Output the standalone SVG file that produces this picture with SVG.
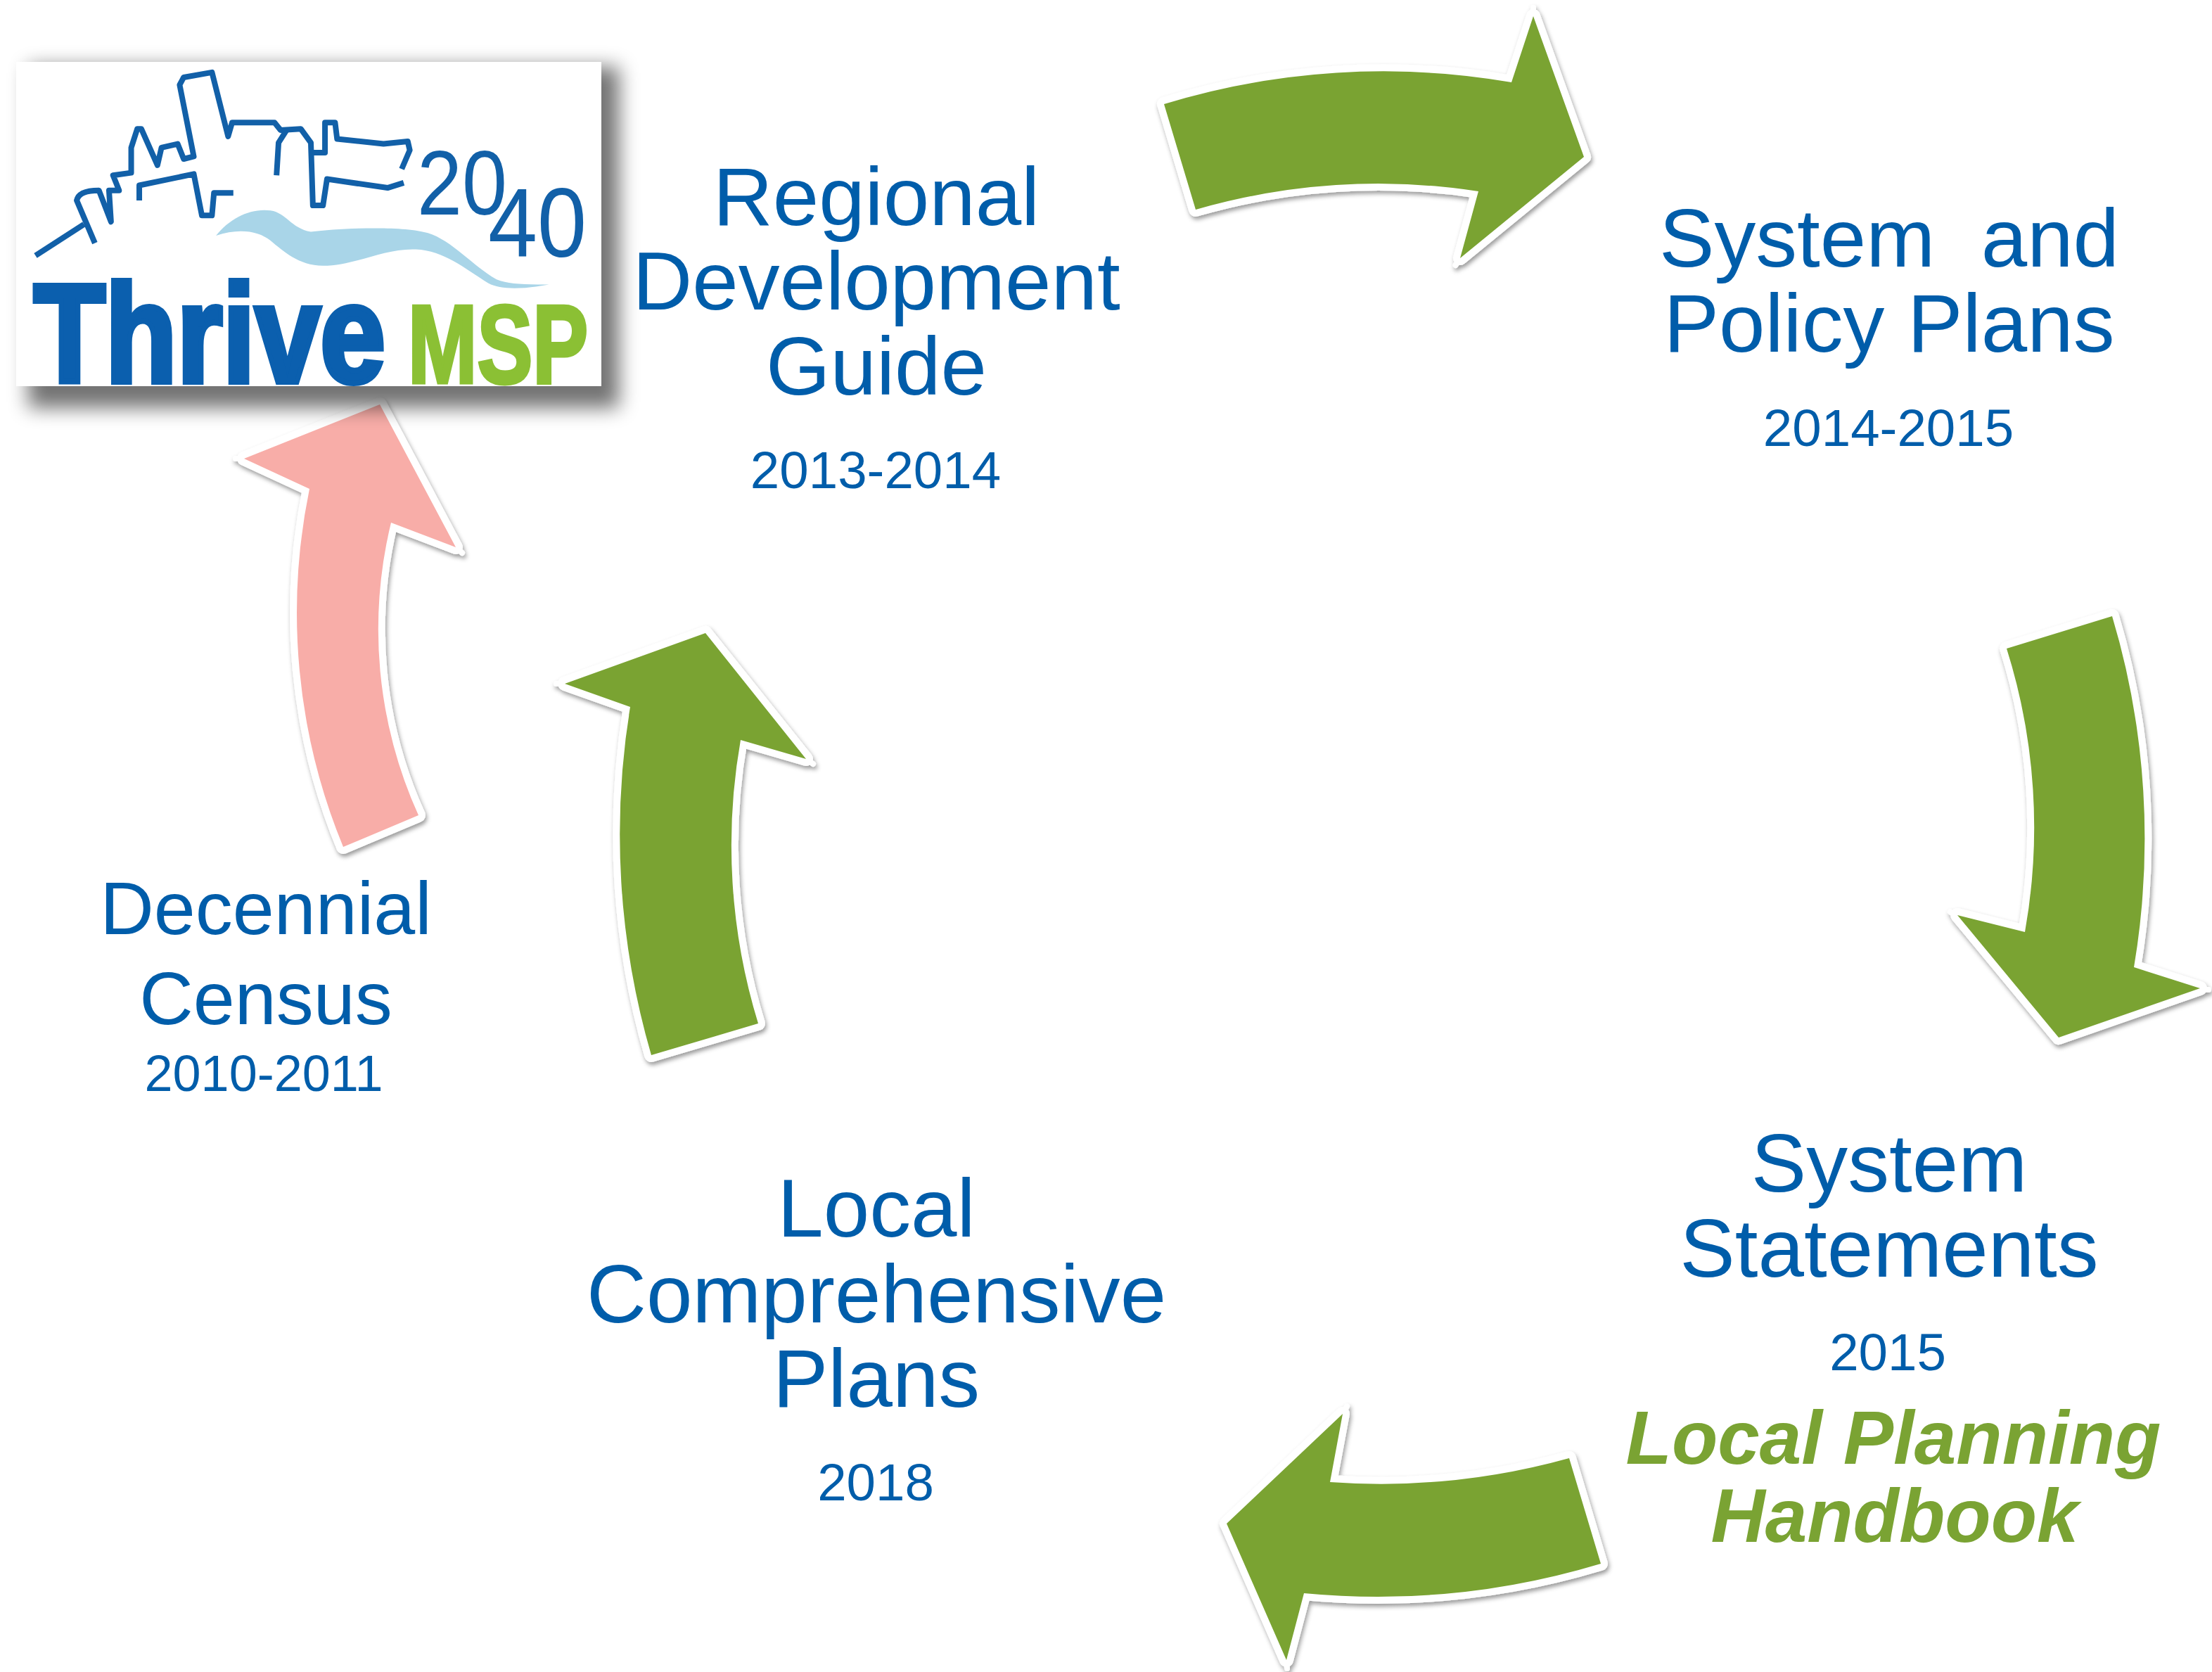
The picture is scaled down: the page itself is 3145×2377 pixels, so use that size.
<svg xmlns="http://www.w3.org/2000/svg" width="3145" height="2377" viewBox="0 0 3145 2377">
<style>
text{font-family:"Liberation Sans",Arial,sans-serif;text-anchor:middle;white-space:pre}
.t{font-size:117.7px;fill:#005DAA}
.d{font-size:106px;fill:#005DAA}
.y{font-size:74.5px;fill:#005DAA}
.g{font-size:107px;font-weight:700;font-style:italic;fill:#7AA333}
.arrow{filter:url(#ds)}
.arrow path{stroke:#fff;stroke-width:20;stroke-linejoin:round;paint-order:stroke}
.arrow line{stroke:#fff;stroke-width:8;stroke-linecap:round}
.green{fill:#7AA333}
.pink{fill:#F8ADA8}
.sky{fill:none;stroke:#1260a8;stroke-width:8;stroke-linejoin:round;vector-effect:non-scaling-stroke}
</style>
<defs>
<filter id="ds" x="-10%" y="-10%" width="125%" height="125%"><feDropShadow dx="2" dy="4" stdDeviation="3" flood-color="#000" flood-opacity="0.4"/></filter>
<filter id="blur" x="-15%" y="-20%" width="130%" height="140%"><feGaussianBlur stdDeviation="14"/></filter>
</defs>
<rect width="3145" height="2377" fill="#fff"/>
<g id="connectors">
<g class="arrow"><line x1="2180" y1="23" x2="2180" y2="11"/><line x1="2076" y1="367" x2="2069.5" y2="377"/><path class="green" d="M1655,148 A1066,1066 0 0 1 2149,117 L2180,23 L2252,223 L2076,367 L2102,272 A930,930 0 0 0 1700,298 Z"/></g>
<g class="arrow"><line x1="3128" y1="1407" x2="3140" y2="1407"/><line x1="2783" y1="1303" x2="2773" y2="1296.5"/><path class="green" d="M2853,922 L3003,876 A1100,1100 0 0 1 3034,1375 L3128,1405 L2927,1475 L2783,1301 L2879,1325 A845,845 0 0 0 2853,922 Z"/></g>
<g class="arrow"><line x1="1909" y1="2010" x2="1915" y2="1999.5"/><line x1="1829" y1="2360" x2="1830" y2="2372"/><path class="green" d="M2231,2073 A1000,1000 0 0 1 1891,2107 L1909,2010 L1744,2166 L1829,2360 L1854,2265 A1100,1100 0 0 0 2276,2223 Z"/></g>
<g class="arrow"><line x1="803" y1="972" x2="791" y2="972"/><line x1="1146" y1="1079" x2="1156" y2="1086"/><path class="green" d="M926,1500 A1122,1122 0 0 1 896,1005 L803,972 L1003,900 L1146,1079 L1053,1052 A861,861 0 0 0 1078,1455 Z"/></g>
<g class="arrow"><line x1="347" y1="652" x2="335" y2="652"/><line x1="648" y1="778" x2="657" y2="786"/><path class="pink" d="M488,1204 A873,873 0 0 1 440,695 L347,652 L540,575 L648,778 L556,743 A640,640 0 0 0 595,1159 Z"/></g>
</g>
<g id="logo">
<rect x="40" y="95" width="840" height="485" fill="#000" opacity="0.55" filter="url(#blur)"/>
<rect x="23" y="88" width="832" height="461" fill="#fff"/>
<g transform="translate(0,60) scale(0.574,0.357)">
<path fill="#a9d5e8" d="M535,770 C570,700 620,660 670,670 C710,680 720,740 770,755 C850,740 1000,730 1060,760 C1120,790 1170,890 1230,945 C1260,965 1300,965 1360,965 C1290,985 1240,985 1210,960 C1150,900 1100,830 1030,825 C950,820 880,890 800,890 C740,890 700,830 670,790 C640,750 590,740 535,770 Z"/>
<path class="sky" d="M88,850 L208,725"/>
<path class="sky" d="M235,800 L190,630 Q195,590 245,590 L275,715 L270,590 L295,590 L280,530 L325,520 L325,420 L340,345 L350,345 L390,490 L400,420 L440,405 L455,465 L480,455 L445,170 L455,140 L525,120 L565,375 L575,320 L680,320 L695,350 L745,345 L770,400 L775,650 L800,650 L810,545 L960,580 L1000,560"/>
<path class="sky" d="M685,530 L690,400 L710,350"/>
<path class="sky" d="M775,440 L805,440 L805,320 L830,320 L835,385 L950,405 L1010,395 L1015,430 L995,505"/>
<path class="sky" d="M345,630 L345,570 L480,525 L500,690 L525,690 L530,600 L578,600"/>
</g>
<text x="657" y="305" font-size="130" fill="#1260a8" textLength="128" lengthAdjust="spacingAndGlyphs">20</text>
<text x="764" y="365" font-size="140" fill="#1260a8" textLength="140" lengthAdjust="spacingAndGlyphs">40</text>
<text x="298" y="543" font-size="198" font-weight="700" fill="#0b5fae" stroke="#0b5fae" stroke-width="8" textLength="500" lengthAdjust="spacingAndGlyphs">Thrive</text>
<text x="708" y="544" font-size="158" font-weight="700" fill="#8bc034" stroke="#8bc034" stroke-width="5" textLength="256" lengthAdjust="spacingAndGlyphs">MSP</text>
</g>
<g id="regional-development-guide">
<text class="t" x="1246" y="320">Regional</text>
<text class="t" x="1246" y="440">Development</text>
<text class="t" x="1246" y="561">Guide</text>
<text class="y" x="1245" y="694">2013-2014</text>
</g>
<g id="system-policy-plans">
<text class="t" x="2686" y="379">System  and</text>
<text class="t" x="2686" y="500">Policy Plans</text>
<text class="y" x="2685" y="634">2014-2015</text>
</g>
<g id="system-statements">
<text class="t" x="2686" y="1694">System</text>
<text class="t" x="2686" y="1815">Statements</text>
<text class="y" x="2684" y="1948">2015</text>
<text class="g" x="2692" y="2081">Local Planning</text>
<text class="g" x="2694" y="2192">Handbook</text>
</g>
<g id="local-comprehensive-plans">
<text class="t" x="1246" y="1758">Local</text>
<text class="t" x="1246" y="1880">Comprehensive</text>
<text class="t" x="1246" y="2000">Plans</text>
<text class="y" x="1245" y="2133">2018</text>
</g>
<g id="decennial-census">
<text class="d" x="378" y="1328">Decennial</text>
<text class="d" x="378" y="1456">Census</text>
<text class="y" x="375" y="1551" style="font-size:72px">2010-2011</text>
</g>
</svg>
